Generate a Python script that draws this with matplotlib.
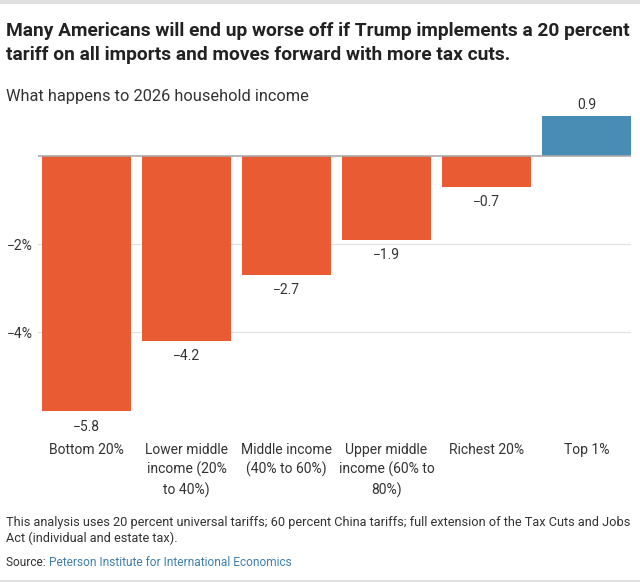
import matplotlib
matplotlib.use("Agg")
import matplotlib.pyplot as plt

categorias = ["Bottom 20%", "Lower middle\nincome (20%\nto 40%)", "Middle income\n(40% to 60%)",
              "Upper middle\nincome (60% to\n80%)", "Richest 20%", "Top 1%"]
valores = [-5.8, -4.2, -2.7, -1.9, -0.7, 0.9]
ticks_y = [-4, -2]
rotulos_y = ["\u22124%", "\u22122%"]

titulo = ("Many Americans will end up worse off if Trump implements a 20 percent\n"
          "tariff on all imports and moves forward with more tax cuts.")
subtitulo = "What happens to 2026 household income"
nota = ("This analysis uses 20 percent universal tariffs; 60 percent China tariffs; "
        "full extension of the Tax Cuts and Jobs\nAct (individual and estate tax).")

LARANJA = "#E95B32"
AZUL = "#4A8DB4"
TEXTO = "#333333"

plt.rcParams["font.family"] = ["Roboto", "DejaVu Sans"]

W, H = 640, 585
fig = plt.figure(figsize=(6.4, 5.85), dpi=100)
ax = fig.add_axes([38 / W, 1 - 413.4 / H, 593 / W, (413.4 - 112) / H])


def ajustar_largura(texto_obj, largura_px):
    # escala a fonte para o texto ocupar a largura medida na referencia
    fig.canvas.draw()
    largura = texto_obj.get_window_extent().width
    texto_obj.set_fontsize(texto_obj.get_fontsize() * largura_px / largura)


cores = [AZUL if v > 0 else LARANJA for v in valores]
x = list(range(len(valores)))
ax.bar(x, valores, width=0.89, color=cores, zorder=2)
ax.axhline(0, color="#aaaaaa", linewidth=1.2, zorder=3)
for t in ticks_y:
    ax.axhline(t, color="#e2e2e2", linewidth=0.9, zorder=1)

for xi, v in zip(x, valores):
    rotulo = f"{v:.1f}".replace("-", "\u2212")
    desloc = 8.3 if v > 0 else -11.2
    ax.annotate(rotulo, (xi, v), xytext=(0, desloc), textcoords="offset points",
                ha="center", va="center", fontsize=10, color=TEXTO)

ax.set_xlim(-0.485, 5.445)
ax.set_ylim(-5.85, 1.0)
ax.set_yticks(ticks_y)
ax.set_yticklabels(rotulos_y, fontsize=10, color=TEXTO)
ax.set_xticks(x)
ax.set_xticklabels(categorias, fontsize=10, color=TEXTO, linespacing=1.45, va="top")
ax.tick_params(axis="x", length=0, pad=21)
ax.tick_params(axis="y", length=0, pad=4)
for lado in ax.spines.values():
    lado.set_visible(False)

t_titulo = fig.text(6 / W, 1 - 43 / H, titulo, fontsize=14.5, fontweight="bold",
                    color="#222222", va="center", ha="left", linespacing=1.4)
ajustar_largura(t_titulo, 626)
t_sub = fig.text(6 / W, 1 - 96 / H, subtitulo, fontsize=12, color=TEXTO, va="center", ha="left")
ajustar_largura(t_sub, 301)
t_nota = fig.text(6 / W, 1 - 530.5 / H, nota, fontsize=9.5, color=TEXTO,
                  va="center", ha="left", linespacing=1.22)
ajustar_largura(t_nota, 627)

fonte_txt = fig.text(6 / W, 1 - 563 / H, "Source: ", fontsize=t_nota.get_fontsize() * 0.93,
                     color=TEXTO, va="center", ha="left")
fig.canvas.draw()
bb = fonte_txt.get_window_extent()
fig.text(bb.x1 / W, 1 - 563 / H, "Peterson Institute for International Economics",
         fontsize=fonte_txt.get_fontsize(), color="#3f7fae", va="center", ha="left")

fig.add_artist(plt.Line2D([0, 1], [1 - 1.5 / H, 1 - 1.5 / H], color="#e0e0e0", linewidth=3))
fig.add_artist(plt.Line2D([0, 1], [4.5 / H, 4.5 / H], color="#e0e0e0", linewidth=1.5))

fig.savefig("out.png", dpi=100)
